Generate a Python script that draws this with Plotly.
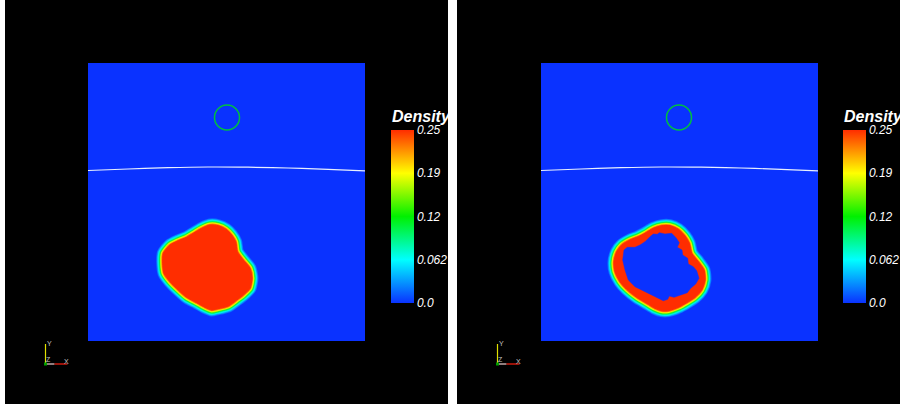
import plotly.graph_objects as go

# Panel coordinates are in units along the square field (x: 0-277, y: 0-278)
field_x = [0, 277]
field_y = [0, 278]
background_density = [[0.0]]

colorbar_ticks = [0, 0.0625, 0.125, 0.1875, 0.25]
colorbar_labels = ["0.0", "0.062", "0.12", "0.19", "0.25"]

left_blob_x = [122, 130.3, 138, 143.7, 147.7, 149.3, 155.3, 162, 164, 162, 155.3, 148.7, 140.3, 128.7, 123.7, 117, 108.7, 98.7, 90.3, 82, 76, 74.7, 75.3, 82, 90.3, 98.7, 105.3, 113.7, 122]
left_blob_y = [116, 115.3, 111.7, 106, 99.3, 89.3, 81, 72.7, 62.7, 52.7, 46, 41, 35, 32, 31, 33.7, 38.3, 43.7, 51, 59.3, 67.7, 77.7, 87.7, 96, 100.3, 103.7, 107.7, 112.7, 116]

right_outer_x = [120.7, 129, 137.3, 144, 148.3, 150.7, 157.3, 163, 164, 160.7, 154, 145.7, 137.3, 127.3, 120.7, 114, 105.7, 95.7, 85.7, 79, 74, 73, 75.7, 80.7, 89, 97.3, 104, 112.3, 120.7]
right_outer_y = [115.3, 115.3, 111.7, 105, 97.7, 87.7, 79.3, 71, 61, 51, 43.7, 38.3, 33.7, 30.3, 30.3, 32.7, 37.7, 43.7, 51.7, 59.3, 69.3, 79.3, 89.3, 96, 101, 104.3, 107.7, 112.7, 115.3]

right_hole_x = [109, 112.3, 116.3, 118.3, 124, 130.7, 135, 138.3, 136.3, 141, 141.7, 146.7, 147.3, 152.3, 155.7, 158, 154.7, 149.7, 146.3, 139, 133, 128.3, 126.7, 122.3, 114, 104, 94, 87.3, 84, 81.7, 83, 86.3, 94, 99, 104, 109]
right_hole_y = [104.3, 107, 106.7, 108.3, 107, 107.7, 103.3, 98.3, 93.7, 91, 86, 82.7, 77, 74.3, 70.3, 62.7, 57, 52.7, 48.3, 45.7, 43.7, 45, 41.7, 40.3, 44.3, 49.3, 54.3, 61, 71, 81, 91, 93.7, 93.7, 96, 99.3, 104.3]

interface_x = [0, 40, 80, 120, 160, 200, 240, 277]
interface_y = [170.5, 172, 173.3, 174, 173.8, 173, 171.6, 170.2]

circle_x_left = [139]
circle_x_right = [138]
circle_y = [223.5]

BLUE = "#0a32ff"
JET = [[0, BLUE], [0.25, "#00ffff"], [0.5, "#00f000"], [0.75, "#ffff00"], [1, "#ff2d00"]]
BANDS = [(13, "#0a6cff"), (11.5, "#00a8ff"), (10, "#00e6ff"), (8.5, "#00ffb0"), (7, "#00f050"),
         (5.5, "#70f000"), (4.5, "#e8ff00"), (3.2, "#ffc000"), (2, "#ff7000")]
RED = "#ff2d00"
FONT = "Liberation Sans"

fig = go.Figure()


def add_panel(xaxis, yaxis, bar_px, ox, oy, hole=None, circle_x=None):
    ax = {"xaxis": xaxis, "yaxis": yaxis}
    fig.add_trace(go.Heatmap(
        x=field_x, y=field_y, z=background_density, zmin=0, zmax=0.25, colorscale=JET,
        hoverinfo="skip",
        colorbar=dict(
            x=bar_px / 900, xanchor="left", xpad=0, ypad=0, y=(408 - 303) / 408, yanchor="bottom",
            len=173, lenmode="pixels", thickness=23, thicknessmode="pixels", outlinewidth=0,
            tickmode="array", tickvals=colorbar_ticks, ticktext=colorbar_labels, ticks="",
            tickfont=dict(family=FONT, size=12, color="white", style="italic"),
        ), **ax))
    for width, color in BANDS:
        fig.add_trace(go.Scatter(x=ox, y=oy, mode="lines", line=dict(color=color, width=width, shape="spline", smoothing=0.6),
                                 hoverinfo="skip", showlegend=False, **ax))
    fig.add_trace(go.Scatter(x=ox, y=oy, mode="lines", fill="toself", fillcolor=RED,
                             line=dict(color=RED, width=1, shape="spline", smoothing=0.6),
                             hoverinfo="skip", showlegend=False, **ax))
    if hole:
        fig.add_trace(go.Scatter(x=hole[0], y=hole[1], mode="lines", fill="toself", fillcolor=BLUE,
                                 line=dict(color=BLUE, width=0.5), hoverinfo="skip", showlegend=False, **ax))
    fig.add_trace(go.Scatter(x=interface_x, y=interface_y, mode="lines",
                             line=dict(color="#e8f0ff", width=1.2, shape="spline"), hoverinfo="skip", showlegend=False, **ax))
    fig.add_trace(go.Scatter(x=circle_x, y=circle_y, mode="markers",
                             marker=dict(size=25, color="rgba(0,0,0,0)", line=dict(color="#00c040", width=1.5)),
                             hoverinfo="skip", showlegend=False, **ax))


add_panel("x", "y", 391, left_blob_x, left_blob_y, circle_x=circle_x_left)
add_panel("x2", "y2", 843, right_outer_x, right_outer_y, hole=(right_hole_x, right_hole_y), circle_x=circle_x_right)

axis_common = dict(visible=False, showgrid=False, zeroline=False, fixedrange=True)
fig.update_layout(
    width=900, height=408, margin=dict(l=0, r=0, t=0, b=0), autosize=False,
    paper_bgcolor="white", plot_bgcolor="black", showlegend=False,
    xaxis=dict(domain=[88 / 900, 365 / 900], range=field_x, anchor="y", **axis_common),
    yaxis=dict(domain=[(408 - 341) / 408, (408 - 63) / 408], range=field_y, anchor="x", **axis_common),
    xaxis2=dict(domain=[541 / 900, 818 / 900], range=field_x, anchor="y2", **axis_common),
    yaxis2=dict(domain=[(408 - 341) / 408, (408 - 63) / 408], range=field_y, anchor="x2", **axis_common),
)


def px(x0, y0, x1, y1, **kw):
    return dict(type="rect", xref="paper", yref="paper", x0=x0 / 900, x1=x1 / 900,
                y0=(408 - y1) / 408, y1=(408 - y0) / 408, **kw)


shapes = [
    px(5, 0, 448, 404, fillcolor="black", line_width=0, layer="below"),
    px(457, 0, 900, 404, fillcolor="black", line_width=0, layer="below"),
]


def seg(x0, y0, x1, y1, color, width=1.2):
    return dict(type="line", xref="paper", yref="paper", x0=x0 / 900, x1=x1 / 900,
                y0=(408 - y0) / 408, y1=(408 - y1) / 408, line=dict(color=color, width=width))


annotations = []
for bar_px in (391, 843):
    annotations.append(dict(text="<b><i>Density</i></b>", xref="paper", yref="paper", x=(bar_px - 1) / 900, y=(408 - 116) / 408,
                            showarrow=False, xanchor="left", yanchor="middle",
                            font=dict(family=FONT, size=16, color="white")))
for ox in (45.5, 497.5):
    shapes += [seg(ox, 364, ox, 344, "#e0e000"), seg(ox, 364, ox + 9, 364, "#f0d0d0"), seg(ox + 9, 364, ox + 22, 364, "#ff2010"),
               seg(ox - 1.5, 364, ox + 1.5, 364, "#00a000", 3)]
    for label, dx, dy, color in (("Y", 4, -21, "#c0c0c0"), ("Z", 3, -5, "#c0c0c0"), ("X", 21, -3, "#c0c0c0")):
        annotations.append(dict(text=label, xref="paper", yref="paper", x=(ox + dx) / 900, y=(408 - (364 + dy)) / 408,
                                showarrow=False, xanchor="center", yanchor="middle",
                                font=dict(family=FONT, size=7, color=color)))
fig.update_layout(shapes=shapes, annotations=annotations)

fig.write_html(
    "out.html",
    config={"displayModeBar": False, "responsive": False},
    post_script="document.documentElement.style.overflow='hidden';document.body.style.margin='0';document.body.style.overflow='hidden';",
)
